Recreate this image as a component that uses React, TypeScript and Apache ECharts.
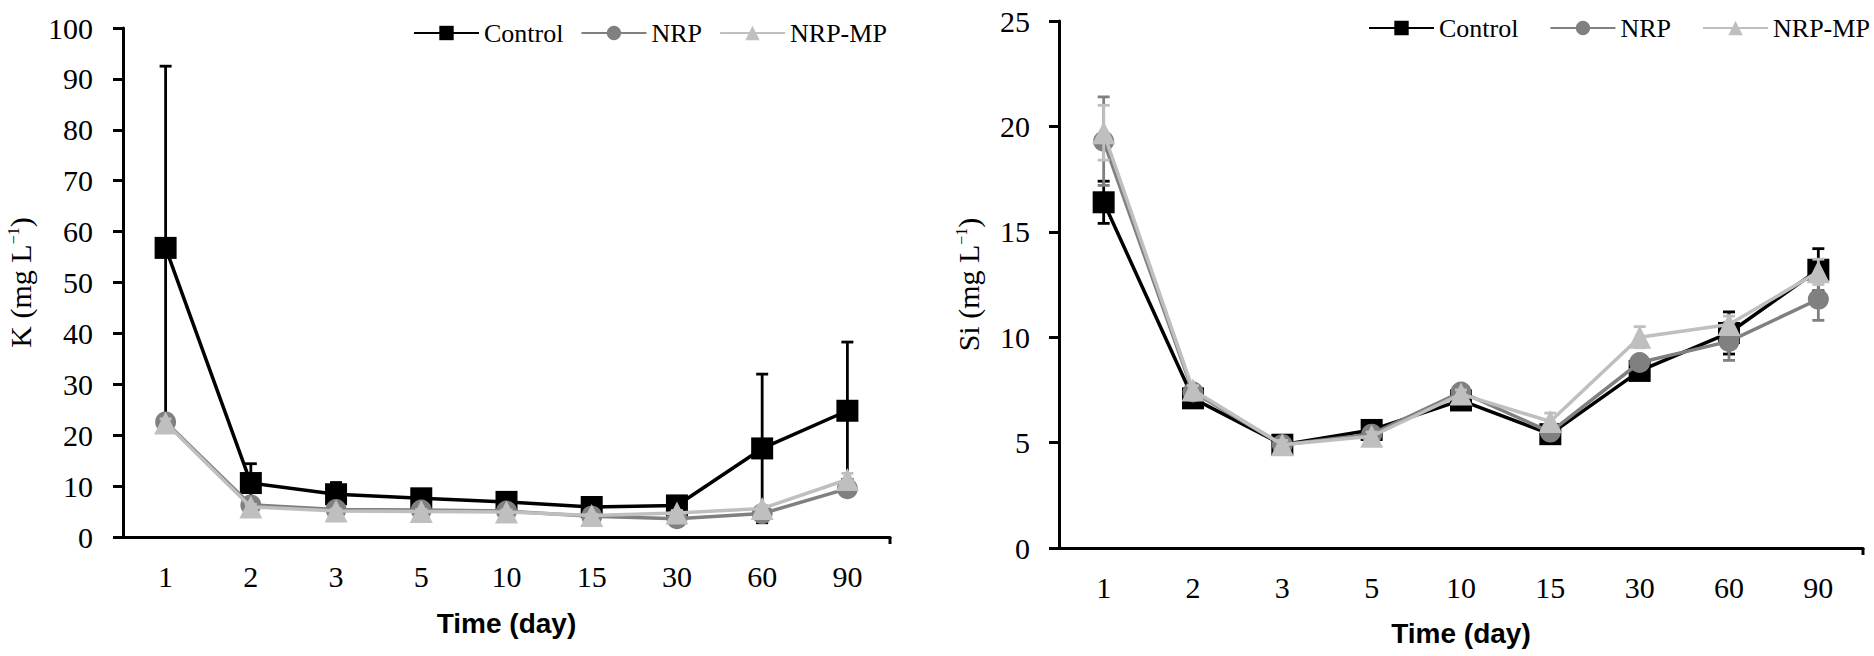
import React, { useEffect, useRef } from "react";
import * as echarts from "echarts";

const categories = ["1", "2", "3", "5", "10", "15", "30", "60", "90"];
const seriesNames = ["Control", "NRP", "NRP-MP"];

// K (mg L-1)
const kControl = [56.8, 10.6, 8.4, 7.6, 6.9, 5.9, 6.2, 17.4, 24.8];
const kControlSd = [35.7, 3.8, 2.3, 1.2, 1.0, 0.6, 0.7, 14.6, 13.5];
const kNRP = [22.6, 6.3, 5.4, 5.3, 5.1, 4.1, 3.6, 4.6, 9.5];
const kNRPSd = [1.0, 0.6, 0.5, 0.5, 0.5, 0.4, 0.4, 0.8, 1.0];
const kNRPMP = [22.4, 5.9, 5.1, 5.0, 4.9, 4.2, 4.7, 5.6, 11.3];
const kNRPMPSd = [0.8, 0.5, 0.4, 0.4, 0.4, 0.3, 0.5, 0.6, 1.2];

// Si (mg L-1)
const siControl = [16.4, 7.1, 4.9, 5.6, 7.0, 5.4, 8.4, 10.2, 13.2];
const siControlSd = [1.0, 0.2, 0.2, 0.2, 0.2, 0.2, 0.3, 1.0, 1.0];
const siNRP = [19.3, 7.4, 4.9, 5.4, 7.4, 5.5, 8.8, 9.8, 11.8];
const siNRPSd = [2.1, 0.2, 0.2, 0.2, 0.2, 0.2, 0.3, 0.9, 1.0];
const siNRPMP = [19.7, 7.5, 4.9, 5.3, 7.3, 6.0, 10.0, 10.6, 13.1];
const siNRPMPSd = [1.3, 0.2, 0.2, 0.2, 0.2, 0.4, 0.5, 0.4, 0.6];

const kTicks = { min: 0, max: 100, interval: 10 };
const siTicks = { min: 0, max: 25, interval: 5 };

const colors = ["#000000", "#808080", "#bfbfbf"];
const symbols = ["rect", "circle", "triangle"];
const symbolSizes = [22, 21, 23];

const SERIF = "Liberation Serif";
const SANS = "Liberation Sans";

function errSeries(id: string, vals: number[], sds: number[], color: string, axis: number, z: number) {
  return {
    type: "custom",
    name: id,
    xAxisIndex: axis,
    yAxisIndex: axis,
    z,
    silent: true,
    data: vals.map((v, i) => [i, v - sds[i], v + sds[i]]),
    encode: { x: 0, y: [1, 2] },
    renderItem: (params: any, api: any) => {
      const x = api.value(0);
      const lo = api.coord([x, api.value(1)]);
      const hi = api.coord([x, api.value(2)]);
      const hw = 6;
      const style = { stroke: color, lineWidth: 2.8, fill: "none" };
      return {
        type: "group",
        children: [
          { type: "line", shape: { x1: lo[0], y1: lo[1], x2: hi[0], y2: hi[1] }, style },
          { type: "line", shape: { x1: lo[0] - hw, y1: lo[1], x2: lo[0] + hw, y2: lo[1] }, style },
          { type: "line", shape: { x1: hi[0] - hw, y1: hi[1], x2: hi[0] + hw, y2: hi[1] }, style },
        ],
      };
    },
  };
}

function lineSeries(idx: number, vals: number[], axis: number, z: number) {
  return {
    type: "line",
    name: seriesNames[idx],
    xAxisIndex: axis,
    yAxisIndex: axis,
    z,
    data: vals,
    symbol: symbols[idx],
    symbolSize: symbolSizes[idx],
    showSymbol: true,
    lineStyle: { color: colors[idx], width: 3.5 },
    itemStyle: { color: colors[idx] },
    emphasis: { disabled: true },
  };
}

function xAxis(grid: number, gap: number) {
  return {
    type: "category",
    gridIndex: grid,
    data: categories,
    boundaryGap: true,
    name: "Time (day)",
    nameLocation: "middle",
    nameGap: gap,
    nameTextStyle: { fontFamily: SANS, fontWeight: "bold", fontSize: 28, color: "#000" },
    axisLine: { lineStyle: { color: "#000", width: 3 } },
    axisTick: { alignWithLabel: true, length: 7, lineStyle: { color: "#000", width: 3 } },
    axisLabel: { fontFamily: SERIF, fontSize: 30, color: "#000", margin: 24 },
    splitLine: { show: false },
  };
}

function yAxis(grid: number, label: string, ticks: any, gap: number, margin: number) {
  return {
    type: "value",
    gridIndex: grid,
    min: ticks.min,
    max: ticks.max,
    interval: ticks.interval,
    name: label + " (mg L{sup|−1})",
    nameLocation: "middle",
    nameGap: gap,
    nameRotate: 90,
    nameTextStyle: {
      fontFamily: SERIF,
      fontSize: 30,
      color: "#000",
      rich: { sup: { fontFamily: SERIF, fontSize: 16, color: "#000", verticalAlign: "top", padding: [0, 0, 10, 0] } },
    },
    axisLine: { show: true, lineStyle: { color: "#000", width: 3 } },
    axisTick: { show: true, length: 10, lineStyle: { color: "#000", width: 3 } },
    axisLabel: { fontFamily: SERIF, fontSize: 30, color: "#000", margin },
    splitLine: { show: false },
  };
}

function legend(left: number, top: number, gap: number) {
  return {
    left,
    top,
    width: 520,
    padding: 0,
    orient: "horizontal",
    data: seriesNames,
    itemWidth: 65,
    itemHeight: 18,
    itemGap: gap,
    selectedMode: false,
    textStyle: { fontFamily: SERIF, fontSize: 26, color: "#000" },
  };
}

export default function App() {
  const ref = useRef<HTMLDivElement>(null);
  useEffect(() => {
    if (!ref.current) return;
    const chart = echarts.init(ref.current, undefined, { renderer: "svg" });
    const option: any = {
      animation: false,
      backgroundColor: "#ffffff",
      grid: [
        { left: 123, top: 28, width: 767, height: 509, containLabel: false, outerBoundsMode: "none" },
        { left: 1059, top: 21, width: 804, height: 527, containLabel: false, outerBoundsMode: "none" },
      ],
      legend: [legend(413, 20, 17), legend(1368, 15, 31)],
      xAxis: [xAxis(0, 72), xAxis(1, 71)],
      yAxis: [yAxis(0, "K", kTicks, 88, 30), yAxis(1, "Si", siTicks, 76, 29)],
      series: [
        errSeries("e0", kControl, kControlSd, colors[0], 0, 1),
        lineSeries(0, kControl, 0, 2),
        errSeries("e1", kNRP, kNRPSd, colors[1], 0, 3),
        lineSeries(1, kNRP, 0, 4),
        errSeries("e2", kNRPMP, kNRPMPSd, colors[2], 0, 5),
        lineSeries(2, kNRPMP, 0, 6),
        errSeries("e3", siControl, siControlSd, colors[0], 1, 1),
        lineSeries(0, siControl, 1, 2),
        errSeries("e4", siNRP, siNRPSd, colors[1], 1, 3),
        lineSeries(1, siNRP, 1, 4),
        errSeries("e5", siNRPMP, siNRPMPSd, colors[2], 1, 5),
        lineSeries(2, siNRPMP, 1, 6),
      ],
    };
    chart.setOption(option);
    // end ticks at the right end of each x axis, placed from the grid rects
    const graphics: any[] = [];
    [0, 1].forEach((gi) => {
      const gridModel: any = (chart as any).getModel().getComponent("grid", gi);
      const rect = gridModel.coordinateSystem.getRect();
      const xr = rect.x + rect.width;
      const yb = rect.y + rect.height;
      graphics.push({
        type: "line",
        shape: { x1: xr, y1: yb, x2: xr, y2: yb + 7 },
        style: { stroke: "#000", lineWidth: 3 },
        silent: true,
      });
    });
    chart.setOption({ graphic: graphics });
    return () => chart.dispose();
  }, []);
  return (
    <div
      ref={ref}
      style={{ position: "absolute", left: 0, top: 0, width: 1874, height: 656, background: "#fff" }}
    />
  );
}
